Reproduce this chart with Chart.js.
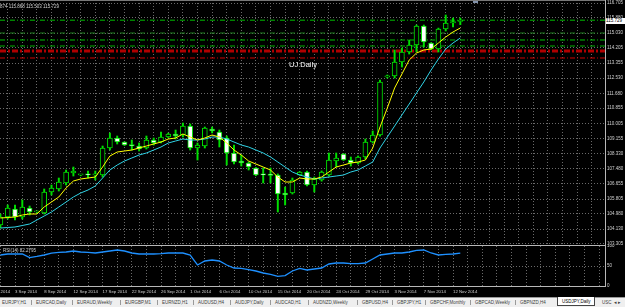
<!DOCTYPE html>
<html>
<head>
<meta charset="utf-8">
<title>USDJPY Daily</title>
<script src="https://cdn.jsdelivr.net/npm/chart.js@4.4.1/dist/chart.umd.min.js"></script>
<style>
  html, body { margin: 0; padding: 0; background: #000; }
  body { width: 625px; height: 307px; position: relative; overflow: hidden; font-family: "Liberation Sans", Arial, sans-serif; }
  canvas { position: absolute; left: 0; }
  #priceChart { top: 0; }
  #rsiChart { top: 245px; }
  .hline { position: absolute; height: 1px; background: #b8b8b8; }
  .vline { position: absolute; width: 1px; background: #b8b8b8; }
  .txt { position: absolute; white-space: nowrap; color: #d0d0d0; font-size: 4.5px; line-height: 5px; }
  #tabs { position: absolute; left: 0; top: 297px; width: 625px; height: 10px; background: #efefef; border-top: 1px solid #9a9a9a; box-sizing: border-box; }
  .tab { position: absolute; top: 2px; font-size: 4.5px; line-height: 5px; color: #404040; white-space: nowrap; }
  .tab.active { top: -1px; padding: 2px 4px 1px 4px; background: #fff; border: 1px solid #444; border-top: none; color: #000; }
  .sep { position: absolute; top: 2px; width: 1px; height: 5px; background: #9a9a9a; }
</style>
</head>
<body>
<canvas id="priceChart" width="625" height="250"></canvas>
<canvas id="rsiChart" width="625" height="52"></canvas>

<div class="hline" style="left:0;top:0;width:605px;background:#777"></div>
<div class="vline" style="left:605px;top:0;height:287px"></div>
<div class="hline" style="left:0;top:245px;width:606px"></div>
<div class="hline" style="left:0;top:286px;width:606px"></div>

<div class="txt" style="left:0;top:4px">874 115.868 115.503 115.729</div>
<div class="txt" style="left:289px;top:60px;font-size:7.5px;line-height:9px;color:#fff">UJ Daily</div>
<div class="txt" style="left:3px;top:248px">RSI(14) 82.2795</div>
<div class="txt" style="left:606px;top:18px;width:19px;height:6px;background:#fff;color:#000;line-height:6px">115.729</div>
<div style="position:absolute;left:473px;top:1px;width:5px;height:2px;background:#8090a8"></div>

<div id="tabs"></div>

<script>
// bars: Sep 1 .. Nov 13 2014 (broker has Sunday candles)
const dates = ['1 Sep','2 Sep','3 Sep','4 Sep','5 Sep','7 Sep','8 Sep','9 Sep','10 Sep','11 Sep','12 Sep',
  '14 Sep','15 Sep','16 Sep','17 Sep','18 Sep','19 Sep','21 Sep','22 Sep','23 Sep','24 Sep','25 Sep','26 Sep',
  '28 Sep','29 Sep','30 Sep','1 Oct','2 Oct','3 Oct','5 Oct','6 Oct','7 Oct','8 Oct','9 Oct','10 Oct',
  '12 Oct','13 Oct','14 Oct','15 Oct','16 Oct','17 Oct','19 Oct','20 Oct','21 Oct','22 Oct','23 Oct','24 Oct',
  '26 Oct','27 Oct','28 Oct','29 Oct','30 Oct','31 Oct','2 Nov','3 Nov','4 Nov','5 Nov','6 Nov','7 Nov',
  '9 Nov','10 Nov','11 Nov','12 Nov','13 Nov'];

const opens = [104.361,104.806,105.251,104.806,105.306,105.084,105.028,106.196,106.363,106.696,107.252,
  107.141,107.160,107.141,107.141,108.642,109.198,108.976,108.780,108.753,108.642,109.087,108.976,
  109.254,109.421,109.365,109.865,108.642,108.753,109.699,109.532,109.198,108.364,107.919,107.808,
  107.530,107.160,107.141,107.141,106.140,106.140,107.141,107.308,106.585,106.863,107.141,107.919,
  108.309,107.975,107.808,108.142,108.976,109.365,112.590,112.645,113.423,113.980,114.369,115.425,
  114.480,114.147,115.259,115.600,115.680];
const highs = [104.973,105.473,105.473,105.751,105.417,105.140,106.363,106.585,106.974,107.419,107.585,
  107.180,107.364,107.364,108.753,109.476,109.309,108.990,109.087,108.921,109.309,109.198,109.532,
  109.470,109.643,110.032,109.977,108.921,109.810,109.810,109.643,109.309,108.809,108.253,107.864,
  107.560,107.530,107.530,107.200,106.474,106.974,107.330,107.364,107.030,107.364,108.364,108.364,
  108.330,108.142,108.200,109.143,109.588,112.423,112.700,114.091,114.202,114.647,115.481,115.481,
  114.500,115.310,116.037,115.870,115.868];
const lows = [104.194,104.695,104.639,104.695,104.917,105.030,104.973,106.029,106.251,106.585,107.085,
  107.100,106.974,106.863,107.030,108.531,108.865,108.780,108.531,108.475,108.587,108.809,108.921,
  109.220,109.143,109.254,108.531,107.975,108.642,109.480,108.698,107.697,107.753,107.641,107.419,
  107.100,106.696,106.696,105.084,105.473,106.085,107.120,106.530,106.196,106.800,107.085,107.585,
  107.950,107.641,107.750,108.050,108.921,109.300,112.534,112.534,113.146,113.868,113.980,114.258,
  114.100,113.980,115.147,115.370,115.503];
const closes = [104.806,105.306,104.806,105.362,105.084,105.110,106.196,106.418,106.752,107.308,107.364,
  107.160,107.141,107.170,108.642,109.198,108.976,108.809,108.760,108.587,109.087,108.921,109.254,
  109.421,109.309,109.865,108.642,108.809,109.754,109.588,109.087,108.364,107.864,107.808,107.585,
  107.141,107.141,107.120,106.085,106.029,106.863,107.308,106.585,106.919,107.308,107.975,108.086,
  107.975,107.808,108.142,108.976,109.365,112.312,112.645,113.423,113.980,114.369,115.425,114.536,
  114.147,115.259,115.592,115.620,115.729];

// moving averages
const maFast = [104.750,104.778,104.806,104.917,104.973,104.973,105.362,105.640,105.918,106.418,106.807,
  106.919,106.974,107.030,107.585,108.197,108.420,108.475,108.531,108.642,108.753,108.865,108.976,
  109.143,109.198,109.421,109.254,109.087,109.198,109.365,109.254,108.920,108.531,108.253,107.919,
  107.752,107.586,107.419,107.030,106.752,106.752,106.974,106.919,106.919,107.030,107.308,107.585,
  107.697,107.808,107.864,107.975,108.642,109.810,110.866,111.979,112.757,113.535,113.924,114.091,
  114.147,114.481,114.814,115.093,115.315];
const maSlow = [104.194,104.222,104.250,104.333,104.417,104.639,104.861,105.084,105.362,105.640,105.918,
  106.141,106.307,106.530,106.974,107.419,107.697,107.919,108.086,108.253,108.364,108.531,108.698,
  108.921,109.031,109.143,109.087,109.087,109.143,109.254,109.254,109.143,108.976,108.809,108.698,
  108.531,108.364,108.142,107.864,107.585,107.308,107.141,107.030,106.919,106.974,107.030,107.085,
  107.141,107.308,107.419,107.641,107.864,108.642,109.254,109.865,110.477,111.089,111.700,112.312,
  112.979,113.591,114.147,114.481,114.759];

const rsi = [77.5,80,80,80,71,74,77.5,82,84,85,87.5,
  85,84,82.5,85,87.5,90,87.5,82.5,80,80,80,81,
  82.5,82.5,82.5,77.5,52.5,62.5,65,62.5,52.5,45,44,41,
  37.5,32.5,29,24,26,37.5,44,40,42.5,45,55,57.5,
  57.5,56,56,57.5,67.5,77.5,80,82.5,82.5,85,89,90,
  82.5,77.5,79,80,82.3];

// horizontal level lines
const levelPrices = [115.750, 115.037, 114.648, 114.314, 114.036, 113.647];
const levelStyles = [
  { color: '#00c000', width: 1, dash: [5, 2, 1, 2] },
  { color: '#1d7d1d', width: 1, dash: [5, 2, 1, 2] },
  { color: '#00c000', width: 1, dash: [5, 2, 1, 2] },
  { color: '#00b000', width: 1, dash: [5, 2, 1, 2] },
  { color: '#b00000', width: 3, dash: [6, 2, 2, 2] },
  { color: '#d00000', width: 1, dash: [5, 2, 1, 2] }
];

const priceTicks = [103.305,104.130,104.980,105.805,106.655,107.480,108.330,109.155,110.005,
  110.855,111.680,112.530,113.355,114.205,115.030,115.880,116.705];
const rsiTicks = [0, 50, 100];
// date labels every 4 bars, first one sits at bar -2
const dateTicks = ['29 Aug 2014','3 Sep 2014','8 Sep 2014','12 Sep 2014','17 Sep 2014','22 Sep 2014',
  '26 Sep 2014','1 Oct 2014','6 Oct 2014','10 Oct 2014','15 Oct 2014','20 Oct 2014','24 Oct 2014',
  '29 Oct 2014','3 Nov 2014','7 Nov 2014','12 Nov 2014'];

const tabs = ['EURJPY,H1','EURCAD,Daily','EURAUD,Weekly','EURGBP,M1','EURNZD,H1','AUDUSD,H4','AUDJPY,Daily',
  'AUDCAD,H1','AUDNZD,Weekly','GBPUSD,H4','GBPJPY,H1','GBPCHF,Monthly','GBPCAD,Weekly','GBPNZD,H4',
  'USDJPY,Daily','USC'];
const activeTab = 'USDJPY,Daily';

// ---- layout ----
const X_MIN = -0.055, X_MAX = 82.82;
const Y_MIN = 103.249, Y_MAX = 116.872;
const GREEN = '#00e000';
const GRID = '#6a6a6a';
const LABEL = '#d0d0d0';

const gridIdx = [];
for (let v = -2; v <= 82; v += 2) gridIdx.push(v);

function xy(arr) {
    return arr.map((v, i) => ({ x: i, y: v }));
}

function fixPad(s) {
    s.paddingTop = 0; s.paddingBottom = 0; s.paddingLeft = 0; s.paddingRight = 0;
}

const levelSets = levelPrices.map((p, i) => ({
    type: 'line',
    data: [{ x: X_MIN, y: p }, { x: X_MAX, y: p }],
    borderColor: levelStyles[i].color,
    borderWidth: levelStyles[i].width,
    borderDash: levelStyles[i].dash,
    pointRadius: 0,
    order: 3
}));

new Chart(document.getElementById('priceChart'), {
    type: 'bar',
    data: {
        datasets: [
            {
                type: 'line', data: xy(maFast),
                borderColor: '#ffff00', borderWidth: 1, pointRadius: 0, order: 0
            },
            {
                type: 'line', data: xy(maSlow),
                borderColor: '#2fd3e6', borderWidth: 1, pointRadius: 0, order: 0
            },
            {
                data: opens.map((o, i) => ({ x: i, y: [o, closes[i]] })),
                backgroundColor: opens.map((o, i) => closes[i] < o ? '#ffffff' : '#000000'),
                borderColor: GREEN, borderWidth: 1, borderSkipped: false,
                barThickness: 5, minBarLength: 1.2, grouped: false, order: 1
            },
            {
                data: lows.map((l, i) => ({ x: i, y: [l, highs[i]] })),
                backgroundColor: GREEN, barThickness: 1.3, grouped: false, order: 2
            },
            ...levelSets
        ]
    },
    options: {
        responsive: false,
        animation: false,
        events: [],
        layout: { padding: 0 },
        plugins: { legend: { display: false }, tooltip: { enabled: false } },
        scales: {
            x: {
                type: 'linear', min: X_MIN, max: X_MAX, offset: false,
                afterBuildTicks: s => { s.ticks = gridIdx.map(v => ({ value: v })); },
                afterFit: s => { s.height = 5; fixPad(s); },
                ticks: { display: false },
                grid: { color: GRID, drawTicks: false },
                border: { display: false, dash: [1, 2] }
            },
            y: {
                position: 'right', min: Y_MIN, max: Y_MAX,
                afterBuildTicks: s => { s.ticks = priceTicks.map(v => ({ value: v })); },
                afterFit: s => { s.width = 20; fixPad(s); },
                ticks: {
                    color: LABEL, padding: 2, font: { size: 4.5, family: 'Liberation Sans' },
                    callback: v => v.toFixed(3)
                },
                grid: { color: GRID, drawTicks: false },
                border: { display: false, dash: [1, 2] }
            }
        }
    }
});

new Chart(document.getElementById('rsiChart'), {
    type: 'line',
    data: {
        datasets: [{
            data: xy(rsi),
            borderColor: '#1e90ff', borderWidth: 1.3, pointRadius: 0
        }]
    },
    options: {
        responsive: false,
        animation: false,
        events: [],
        layout: { padding: { top: 1 } },
        plugins: { legend: { display: false }, tooltip: { enabled: false } },
        scales: {
            x: {
                type: 'linear', min: X_MIN, max: X_MAX, offset: false,
                afterBuildTicks: s => { s.ticks = gridIdx.map(v => ({ value: v })); },
                afterFit: s => { s.height = 11; fixPad(s); },
                ticks: {
                    color: LABEL, padding: 3, align: 'start', autoSkip: false,
                    maxRotation: 0, minRotation: 0,
                    font: { size: 4.3, family: 'Liberation Sans' },
                    callback: v => ((v + 2) % 4 === 0 && dateTicks[(v + 2) / 4]) ? dateTicks[(v + 2) / 4] : ''
                },
                grid: { color: GRID, drawTicks: false },
                border: { display: false, dash: [1, 2] }
            },
            y: {
                position: 'right', min: 0, max: 100,
                afterBuildTicks: s => { s.ticks = rsiTicks.map(v => ({ value: v })); },
                afterFit: s => { s.width = 20; fixPad(s); },
                ticks: { color: LABEL, padding: 2, font: { size: 4.5, family: 'Liberation Sans' } },
                grid: { color: ctx => ctx.tick && ctx.tick.value === 50 ? GRID : 'rgba(0,0,0,0)', drawTicks: false },
                border: { display: false, dash: [1, 2] }
            }
        }
    }
});

// terminal tab strip
const tabLeft = [2, 36, 77, 125, 162, 198, 235, 275, 313, 362, 397, 430, 475, 520, 557, 602];
const bar = document.getElementById('tabs');
tabs.forEach((t, i) => {
    const el = document.createElement('div');
    el.className = 'tab' + (t === activeTab ? ' active' : '');
    el.style.left = tabLeft[i] + 'px';
    el.textContent = t;
    bar.appendChild(el);
    if (i > 0 && t !== activeTab && tabs[i - 1] !== activeTab) {
        const s = document.createElement('div');
        s.className = 'sep';
        s.style.left = (tabLeft[i] - 5) + 'px';
        bar.appendChild(s);
    }
});
const arrows = document.createElement('div');
arrows.className = 'tab';
arrows.style.left = '614px';
arrows.textContent = '\u25C2 \u25B8';
bar.appendChild(arrows);
</script>
</body>
</html>
